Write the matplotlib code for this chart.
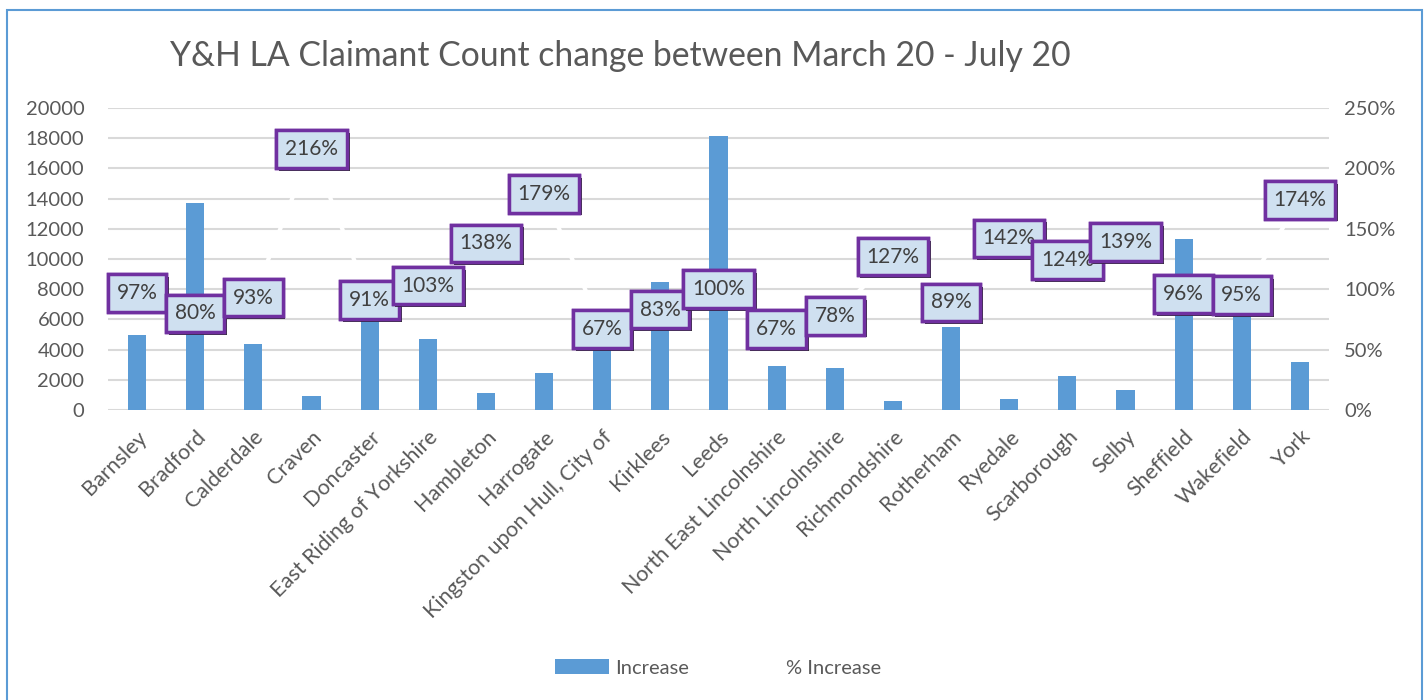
import matplotlib.pyplot as plt
import matplotlib.patheffects as pe
from matplotlib.patches import Rectangle, Patch
from matplotlib.lines import Line2D

plt.rcParams['font.family'] = ['Lato', 'DejaVu Sans']

# data
areas = ["Barnsley", "Bradford", "Calderdale", "Craven", "Doncaster",
         "East Riding of Yorkshire", "Hambleton", "Harrogate",
         "Kingston upon Hull, City of", "Kirklees", "Leeds",
         "North East Lincolnshire", "North Lincolnshire", "Richmondshire",
         "Rotherham", "Ryedale", "Scarborough", "Selby", "Sheffield",
         "Wakefield", "York"]
increase = [5000, 13700, 4400, 900, 6400, 4700, 1100, 2450, 5400, 8500,
            18150, 2900, 2800, 580, 5500, 700, 2250, 1300, 11300, 6900, 3200]
pct_increase = [97, 80, 93, 216, 91, 103, 138, 179, 67, 83, 100, 67, 78,
                127, 89, 142, 124, 139, 96, 95, 174]

grey = '#595959'
fig = plt.figure(figsize=(14.28, 7.0), dpi=100)
fig.patches.append(Rectangle((7 / 1428, -0.02), 1415 / 1428, 1.0057,
                             transform=fig.transFigure, fill=False,
                             edgecolor='#5B9BD5', lw=1.5))

ax = fig.add_axes([108 / 1428, 1 - 410 / 700, 1221 / 1428, 302 / 700])
x = list(range(len(areas)))
ax.bar(x, increase, width=0.31, color='#5B9BD5', zorder=2)
ax.set_xlim(-0.5, len(areas) - 0.5)
ax.set_ylim(0, 20000)
ax.set_yticks(range(0, 20001, 2000))
ax.grid(axis='y', color='#D9D9D9', lw=1.5, zorder=0)
ax.set_axisbelow(True)
for s in ax.spines.values():
    s.set_visible(False)
ax.tick_params(axis='y', length=0, labelsize=14.5, colors=grey, pad=17)
ax.set_xticks(x)
ax.set_xticklabels(areas, rotation=45, ha='right', rotation_mode='anchor')
ax.tick_params(axis='x', length=0, labelsize=15.5, colors=grey, pad=12)

ax2 = ax.twinx()
ax2.set_ylim(0, 250)
ax2.set_yticks(range(0, 251, 50))
ax2.set_yticklabels([f"{v}%" for v in range(0, 251, 50)])
for s in ax2.spines.values():
    s.set_visible(False)
ax2.tick_params(length=0, labelsize=14.5, colors=grey, pad=11)
ax2.plot(x, pct_increase, color='white', lw=3, zorder=3)

for xi, p in zip(x, pct_increase):
    t = ax2.text(xi, p, f"{p}%", ha='center', va='center', fontsize=15,
                 color='#404040', zorder=4,
                 bbox=dict(boxstyle='square,pad=0.42', facecolor='#CFE0F0',
                           edgecolor='#7030A0', lw=2.5))
    t.get_bbox_patch().set_path_effects(
        [pe.withSimplePatchShadow(offset=(2, -2), shadow_rgbFace='#1a1a1a', alpha=0.9),
         pe.Normal()])

fig.text(170 / 1428, 1 - 56 / 700, "Y&H LA Claimant Count change between March 20 - July 20",
         fontsize=24.3, color=grey, ha='left', va='center')

handles = [Patch(facecolor='#5B9BD5'), Line2D([], [], color='white', lw=3)]
fig.legend(handles, ["Increase", "% Increase"], loc='center',
           bbox_to_anchor=(718 / 1428, 1 - 668 / 700), ncol=2, frameon=False,
           fontsize=14.5, labelcolor=grey, handlelength=2.7, handleheight=0.7,
           handletextpad=0.3, columnspacing=1.8)

fig.savefig('out.png', dpi=100)
